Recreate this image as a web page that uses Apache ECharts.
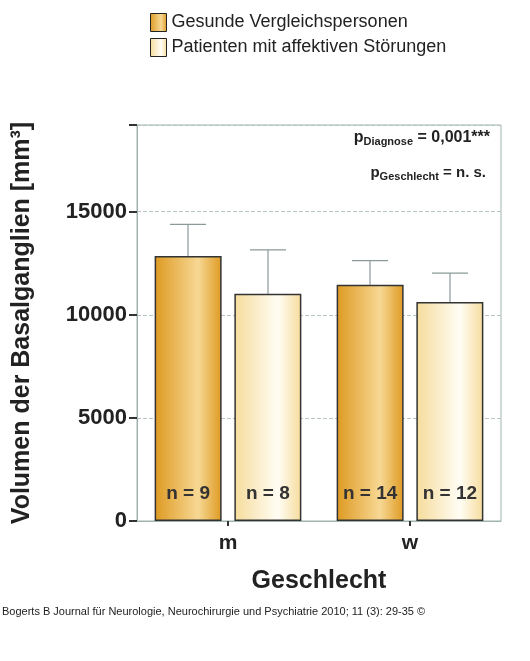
<!DOCTYPE html>
<html><head><meta charset="utf-8">
<script src="https://cdn.jsdelivr.net/npm/echarts@6/dist/echarts.min.js"></script>
<style>body{margin:0;background:#fff}#c{width:530px;height:661px}</style>
</head><body><div id="c"></div>
<script>
var categories = ['m', 'w'];
var gesundMean = [12850, 11450];
var gesundErr = [14380, 12620];
var patMean = [11020, 10620];
var patErr = [13150, 12020];
var nGesund = ['n = 9', 'n = 14'];
var nPat = ['n = 8', 'n = 12'];
var yTicks = [0, 5000, 10000, 15000];

function grad(a, b) {
  return new echarts.graphic.LinearGradient(0, 0, 1, 0, [
    {offset: 0, color: a}, {offset: 0.65, color: b}, {offset: 1, color: a}]);
}
var orange = grad('#DE9A22', '#F7D894');
var pale = grad('#F6DC9C', '#FFFDF4');

function errSeries(err, mean, offset) {
  return {
    type: 'custom', z: 1,
    data: err.map(function (v, i) { return [i, mean[i], v]; }),
    renderItem: function (params, api) {
      var lo = api.coord([api.value(0), api.value(1)]);
      var hi = api.coord([api.value(0), api.value(2)]);
      var x = lo[0] + offset;
      return {type: 'group', children: [
        {type: 'line', shape: {x1: x, y1: lo[1], x2: x, y2: hi[1]}, style: {stroke: '#8a9a9a', lineWidth: 1.2}},
        {type: 'line', shape: {x1: x - 18, y1: hi[1], x2: x + 18, y2: hi[1]}, style: {stroke: '#8a9a9a', lineWidth: 1.2}}
      ]};
    }
  };
}
function nLabel(arr) {
  return {show: true, position: 'insideBottom', distance: 18, color: '#333', fontSize: 19, fontWeight: 'bold',
    formatter: function (p) { return arr[p.dataIndex]; }};
}

var chart = echarts.init(document.getElementById('c'));
chart.setOption({
  animation: false,
  textStyle: {fontFamily: 'Liberation Sans, Arial, sans-serif'},
  grid: {left: 137, right: 29, top: 125, bottom: 140, show: true, borderColor: '#9fb3b0', borderWidth: 1},
  legend: {
    left: 145, top: 8, orient: 'vertical', itemGap: 6, itemWidth: 16, itemHeight: 18, icon: 'rect',
    textStyle: {fontSize: 18, color: '#222'},
    data: [{name: 'Gesunde Vergleichspersonen', itemStyle: {color: orange, borderColor: '#222', borderWidth: 1}},
           {name: 'Patienten mit affektiven Störungen', itemStyle: {color: pale, borderColor: '#222', borderWidth: 1}}]
  },
  xAxis: {
    type: 'category', data: categories,
    name: 'Geschlecht', nameLocation: 'middle', nameGap: 48,
    nameTextStyle: {fontSize: 25, fontWeight: 'bold', color: '#222'},
    axisLine: {lineStyle: {color: '#9fb3b0'}},
    axisTick: {show: true, alignWithLabel: true, length: 5, lineStyle: {color: '#333', width: 2}},
    axisLabel: {fontSize: 21, fontWeight: 'bold', color: '#222', margin: 12}
  },
  yAxis: {
    type: 'value', min: 0, max: 19200, interval: 5000,
    name: 'Volumen der Basalganglien [mm³]', nameLocation: 'middle', nameGap: 102,
    nameTextStyle: {fontSize: 25, fontWeight: 'bold', color: '#222'},
    axisLine: {show: true, lineStyle: {color: '#9fb3b0'}},
    axisTick: {show: true, length: 8, lineStyle: {color: '#333', width: 2}},
    axisLabel: {fontSize: 22, fontWeight: 'bold', color: '#222', margin: 10,
      formatter: function (v) { return yTicks.indexOf(v) >= 0 ? v : ''; }},
    splitLine: {lineStyle: {type: 'dashed', color: '#b8c4c4'}}
  },
  series: [
    {name: 'Gesunde Vergleichspersonen', type: 'bar', data: gesundMean, barWidth: 67, barGap: '19%',
      itemStyle: {color: orange, borderColor: '#333', borderWidth: 1.5}, label: nLabel(nGesund), z: 2},
    {name: 'Patienten mit affektiven Störungen', type: 'bar', data: patMean, barWidth: 67,
      itemStyle: {color: pale, borderColor: '#333', borderWidth: 1.5}, label: nLabel(nPat), z: 2},
    errSeries(gesundErr, gesundMean, -40),
    errSeries(patErr, patMean, 40)
  ],
  graphic: [
    {type: 'text', right: 40, top: 130, style: {
      text: '{p|p}{s|Diagnose}{p| = 0,001***}', rich: {
        p: {fontSize: 16, fontWeight: 'bold', fill: '#222'},
        s: {fontSize: 11, fontWeight: 'bold', fill: '#222', padding: [8, 0, 0, 0]}}}},
    {type: 'text', right: 44, top: 165, style: {
      text: '{p|p}{s|Geschlecht}{p| = n. s.}', rich: {
        p: {fontSize: 15, fontWeight: 'bold', fill: '#222'},
        s: {fontSize: 11, fontWeight: 'bold', fill: '#222', padding: [8, 0, 0, 0]}}}},
    {type: 'text', left: 2, top: 606, style: {
      text: 'Bogerts B Journal für Neurologie, Neurochirurgie und Psychiatrie 2010; 11 (3): 29-35 ©',
      fontSize: 11, fill: '#222'}}
  ]
});
</script></body></html>
